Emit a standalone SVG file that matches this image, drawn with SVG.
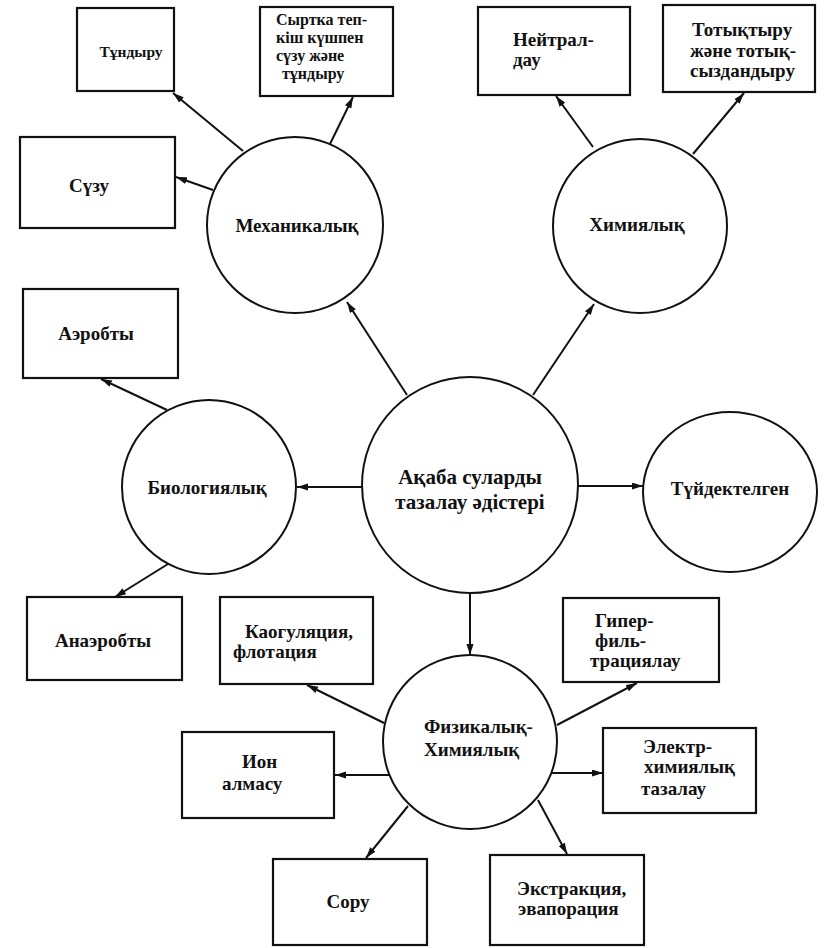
<svg xmlns="http://www.w3.org/2000/svg" width="825" height="948" viewBox="0 0 825 948">
<defs>
<marker id="ah" markerUnits="userSpaceOnUse" markerWidth="12" markerHeight="8" refX="11" refY="3.5" orient="auto">
<path d="M0,0 L11,3.5 L0,7 z" fill="#111"/>
</marker>
<style>
.box{fill:#fff;stroke:#111;stroke-width:2.2}
.cir{fill:#fff;stroke:#111;stroke-width:2}
.t{font-family:"Liberation Serif","Times New Roman",serif;font-weight:bold;font-size:19px;fill:#111}
.s16{font-size:16px}
.c{text-anchor:middle}
.con line{stroke:#111;stroke-width:2;marker-end:url(#ah)}
</style>
</defs>
<rect width="825" height="948" fill="#fff"/>

<g id="connectors" class="con">
<line x1="407" y1="395" x2="347" y2="302"/>
<line x1="533" y1="395" x2="594" y2="304"/>
<line x1="362" y1="487" x2="297" y2="487"/>
<line x1="578" y1="486" x2="643" y2="486"/>
<line x1="470" y1="593" x2="470" y2="655"/>
<line x1="243" y1="151" x2="173" y2="93"/>
<line x1="330" y1="144" x2="353" y2="97"/>
<line x1="213" y1="190" x2="176" y2="177"/>
<line x1="593" y1="147" x2="556" y2="96"/>
<line x1="693" y1="154" x2="744" y2="93"/>
<line x1="167" y1="410" x2="101" y2="379"/>
<line x1="168" y1="564" x2="115" y2="597"/>
<line x1="384" y1="723" x2="307" y2="685"/>
<line x1="390" y1="775" x2="335" y2="775"/>
<line x1="408" y1="806" x2="366" y2="858"/>
<line x1="557" y1="725" x2="637" y2="683"/>
<line x1="552" y1="773" x2="603" y2="773"/>
<line x1="538" y1="800" x2="567" y2="854"/>
</g>

<g id="n-center"><circle class="cir" cx="470" cy="485" r="108"/>
<text class="t c" x="470" y="484" style="font-size:21px">Ақаба суларды</text>
<text class="t c" x="470" y="509" style="font-size:21px">тазалау әдістері</text></g>

<g id="n-mech"><circle class="cir" cx="295" cy="225" r="88"/>
<text class="t c" x="297" y="232">Механикалық</text></g>

<g id="n-chem"><circle class="cir" cx="640" cy="226" r="87"/>
<text class="t c" x="637" y="231">Химиялық</text></g>

<g id="n-bio"><circle class="cir" cx="209" cy="487" r="87"/>
<text class="t c" x="207" y="494">Биологиялық</text></g>

<g id="n-tuid"><ellipse class="cir" cx="730" cy="492" rx="87" ry="80"/>
<text class="t c" x="730" y="495">Түйдектелген</text></g>

<g id="n-phys"><circle class="cir" cx="470" cy="742" r="87"/>
<text class="t" x="424" y="733">Физикалық-</text>
<text class="t" x="424" y="756">Химиялық</text></g>

<g id="b-tundyru"><rect class="box" x="77" y="8" width="97" height="83"/>
<text class="t c" x="131" y="57" style="font-size:15.5px">Тұндыру</text></g>

<g id="b-syrtqa"><rect class="box" x="260" y="7" width="133" height="89"/>
<text class="t s16" x="276" y="25">Сыртка теп-</text>
<text class="t s16" x="276" y="43">кіш күшпен</text>
<text class="t s16" x="276" y="61">сүзу және</text>
<text class="t s16" x="282" y="79">тұндыру</text></g>

<g id="b-suzu"><rect class="box" x="20" y="137" width="155" height="91"/>
<text class="t c" x="89" y="192">Сүзу</text></g>

<g id="b-neitral"><rect class="box" x="478" y="7" width="152" height="88"/>
<text class="t" x="513" y="46">Нейтрал-</text>
<text class="t" x="513" y="66">дау</text></g>

<g id="b-totyq"><rect class="box" x="663" y="5" width="152" height="87"/>
<text class="t" x="692" y="36">Тотықтыру</text>
<text class="t" x="690" y="57">және тотық-</text>
<text class="t" x="690" y="77">сыздандыру</text></g>

<g id="b-aerob"><rect class="box" x="23" y="289" width="155" height="89"/>
<text class="t c" x="96" y="340">Аэробты</text></g>

<g id="b-anaerob"><rect class="box" x="27" y="597" width="155" height="83"/>
<text class="t c" x="103" y="647">Анаэробты</text></g>

<g id="b-koag"><rect class="box" x="220" y="597" width="153" height="87"/>
<text class="t" x="245" y="638">Каогуляция,</text>
<text class="t" x="233" y="658">флотация</text></g>

<g id="b-ion"><rect class="box" x="182" y="732" width="152" height="86"/>
<text class="t" x="242" y="768">Ион</text>
<text class="t" x="222" y="790">алмасу</text></g>

<g id="b-soru"><rect class="box" x="273" y="859" width="154" height="86"/>
<text class="t c" x="348" y="908">Сору</text></g>

<g id="b-giper"><rect class="box" x="563" y="598" width="156" height="84"/>
<text class="t" x="595" y="627">Гипер-</text>
<text class="t" x="595" y="647">филь-</text>
<text class="t" x="590" y="667">трациялау</text></g>

<g id="b-elektr"><rect class="box" x="603" y="728" width="153" height="85"/>
<text class="t" x="643" y="753">Электр-</text>
<text class="t" x="644" y="773">химиялық</text>
<text class="t" x="641" y="795">тазалау</text></g>

<g id="b-ekstr"><rect class="box" x="490" y="855" width="154" height="90"/>
<text class="t" x="517" y="895">Экстракция,</text>
<text class="t" x="518" y="915">эвапорация</text></g>
</svg>
